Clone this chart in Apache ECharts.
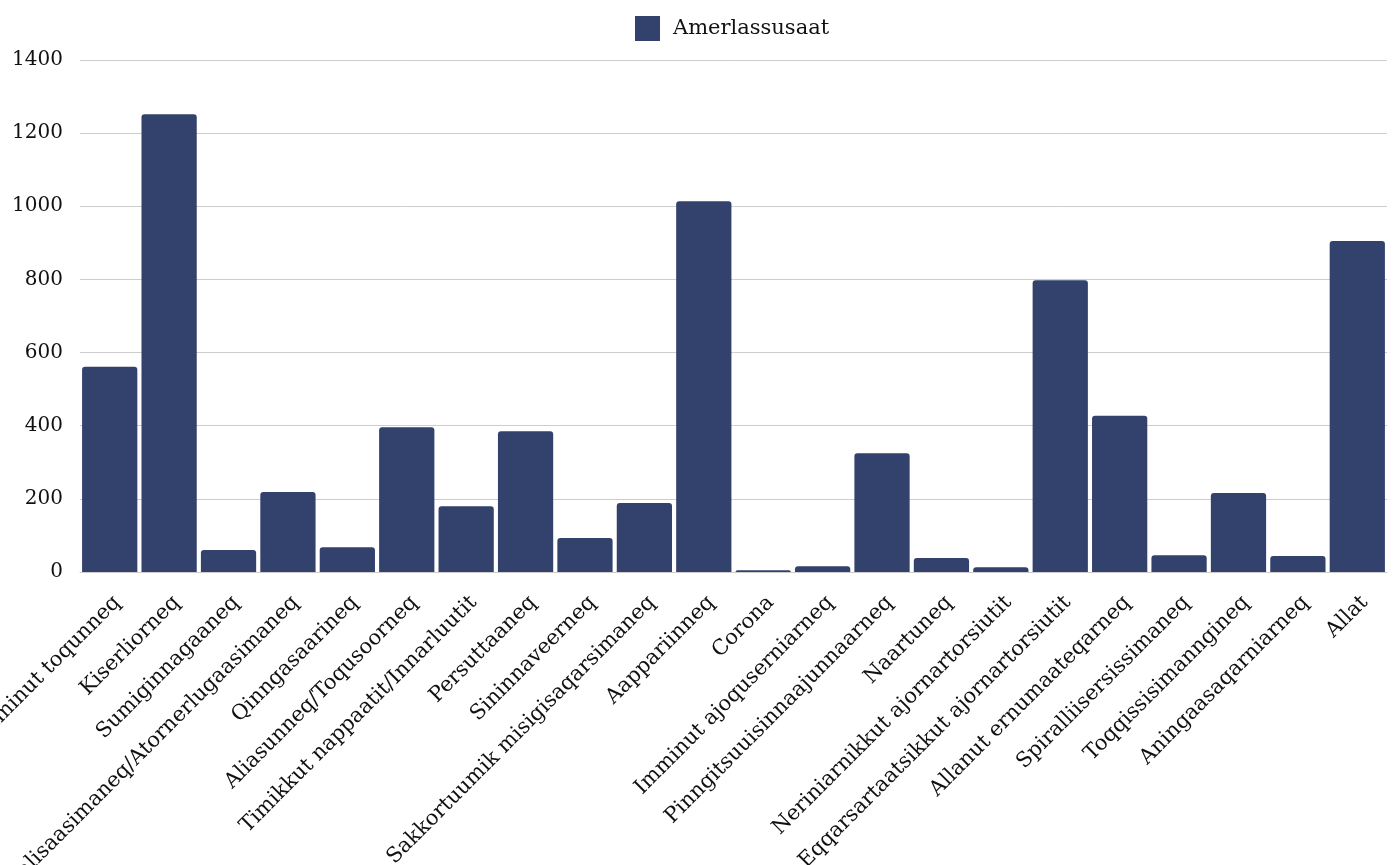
<!DOCTYPE html>
<html><head><meta charset="utf-8">
<script src="https://cdn.jsdelivr.net/npm/echarts@6/dist/echarts.min.js"></script>
<style>html,body{margin:0;padding:0;background:#fff}#c{width:1394px;height:865px}</style>
</head><body><div id="c"></div>
<script>
const categories = ["Imminut toqunneq","Kiserliorneq","Sumiginnagaaneq","Pinngitsaalisaasimaneq/Atornerlugaasimaneq","Qinngasaarineq","Aliasunneq/Toqusoorneq","Timikkut nappaatit/Innarluutit","Persuttaaneq","Sininnaveerneq","Sakkortuumik misigisaqarsimaneq","Aappariinneq","Corona","Imminut ajoquserniarneq","Pinngitsuuisinnaajunnaarneq","Naartuneq","Neriniarnikkut ajornartorsiutit","Eqqarsartaatsikkut ajornartorsiutit","Allanut ernumaateqarneq","Spiralliisersissimaneq","Toqqissisimanngineq","Aningaasaqarniarneq","Allat"];
const seriesName = "Amerlassusaat";
const values = [561,1252,60,219,68,396,180,385,93,189,1014,5,16,325,38,13,798,427,46,216,44,905];
const yTicks = {min:0,max:1400,interval:200};
const chart = echarts.init(document.getElementById('c'));
const font = "'DejaVu Serif', serif";
chart.setOption({
  animation:false,
  textStyle:{fontFamily:font},
  legend:{top:11,left:630,icon:'rect',itemWidth:25,itemHeight:25,itemGap:12,
    textStyle:{fontFamily:font,fontSize:21,color:'#111',padding:[0,0,0,8]},data:[seriesName]},
  grid:{left:80,right:7,top:60,bottom:293,containLabel:false,outerBoundsMode:'none'},
  xAxis:{type:'category',data:categories,
    axisTick:{show:false},axisLine:{lineStyle:{color:'#ccc'}},
    axisLabel:{rotate:45,interval:0,fontFamily:font,fontSize:21,color:'#111',margin:20,verticalAlign:'top'}},
  yAxis:{type:'value',min:yTicks.min,max:yTicks.max,interval:yTicks.interval,
    axisLabel:{fontFamily:font,fontSize:20,color:'#111',margin:17,formatter:v=>String(v)},
    splitLine:{lineStyle:{color:'#cdcdcd',width:1}}},
  series:[{name:seriesName,type:'bar',data:values,barCategoryGap:'7%',
    itemStyle:{color:'#33416d',borderRadius:[3,3,0,0]}}]
});
</script></body></html>
